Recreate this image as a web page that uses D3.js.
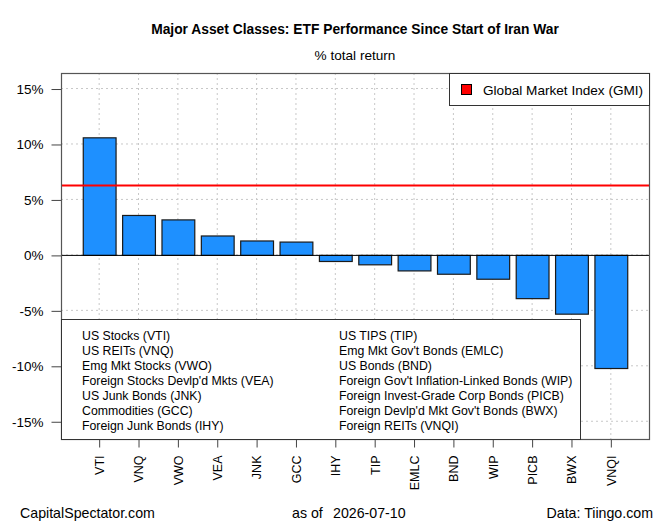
<!DOCTYPE html>
<html>
<head>
<meta charset="utf-8">
<script src="https://cdn.jsdelivr.net/npm/d3@7"></script>
<style>
  body { margin: 0; background: #fff; }
  text { font-family: "Liberation Sans", Arial, sans-serif; fill: #000; }
</style>
</head>
<body>
<div id="chart"></div>
<script>
// tickers along the x axis, in plotted order
var tickers = ["VTI", "VNQ", "VWO", "VEA", "JNK", "GCC", "IHY", "TIP", "EMLC", "BND", "WIP", "PICB", "BWX", "VNQI"];
// % total return
var returns = [10.6, 3.6, 3.2, 1.75, 1.3, 1.2, -0.55, -0.85, -1.4, -1.7, -2.15, -3.9, -5.3, -10.2];
var gmiReturn = 6.25;
var yTicks = [-15, -10, -5, 0, 5, 10, 15];

// legend text, two columns
var legendLeft = ["US Stocks (VTI)", "US REITs (VNQ)", "Emg Mkt Stocks (VWO)", "Foreign Stocks Devlp'd Mkts (VEA)",
    "US Junk Bonds (JNK)", "Commodities (GCC)", "Foreign Junk Bonds (IHY)"];
var legendRight = ["US TIPS (TIP)", "Emg Mkt Gov't Bonds (EMLC)", "US Bonds (BND)", "Foreign Gov't Inflation-Linked Bonds (WIP)",
    "Foreign Invest-Grade Corp Bonds (PICB)", "Foreign Devlp'd Mkt Gov't Bonds (BWX)", "Foreign REITs (VNQI)"];

var width = 669, height = 531;
var plot = { left: 61, right: 649, top: 73, bottom: 439 };

var svg = d3.select("#chart").append("svg")
    .attr("width", width).attr("height", height);

var x = d3.scaleBand()
    .domain(tickers)
    .range([plot.left, plot.right])
    .paddingInner(1 / 6)
    .paddingOuter(0.553);

var y = d3.scaleLinear()
    .domain([-16.6, 16.4])
    .range([plot.bottom, plot.top]);

//grid (dotted)
var grid = svg.append("g").attr("class", "grid");
grid.selectAll("line.h").data(yTicks).enter().append("line")
    .attr("x1", plot.left).attr("x2", plot.right)
    .attr("y1", function (d) { return y(d); }).attr("y2", function (d) { return y(d); })
    .attr("stroke", "#c8c8c8").attr("stroke-dasharray", "2,3");
grid.selectAll("line.v").data(tickers).enter().append("line")
    .attr("x1", function (d) { return x(d) + x.bandwidth() / 2; })
    .attr("x2", function (d) { return x(d) + x.bandwidth() / 2; })
    .attr("y1", plot.top).attr("y2", plot.bottom)
    .attr("stroke", "#c8c8c8").attr("stroke-dasharray", "2,3");

//bars
svg.append("g").selectAll("rect").data(returns).enter().append("rect")
    .attr("x", function (d, i) { return x(tickers[i]) + 0.5; })
    .attr("width", x.bandwidth())
    .attr("y", function (d) { return y(Math.max(0, d)) + 0.5; })
    .attr("height", function (d) { return Math.abs(y(d) - y(0)); })
    .attr("fill", "#1E90FF")
    .attr("stroke", "#1a1a1a").attr("stroke-width", 1.2);

//zero line and GMI line
svg.append("line")
    .attr("x1", plot.left).attr("x2", plot.right)
    .attr("y1", y(0) + 0.5).attr("y2", y(0) + 0.5)
    .attr("stroke", "#000").attr("stroke-width", 1);
svg.append("line")
    .attr("x1", plot.left).attr("x2", plot.right)
    .attr("y1", y(gmiReturn)).attr("y2", y(gmiReturn))
    .attr("stroke", "#ff0000").attr("stroke-width", 2);

//y axis
var yAxis = d3.axisLeft(y).tickValues(yTicks)
    .tickFormat(function (d) { return d + "%"; })
    .tickSize(10).tickPadding(8);
var yg = svg.append("g").attr("transform", "translate(" + (plot.left + 0.5) + ",0.5)").call(yAxis);
yg.select(".domain").remove();
yg.selectAll(".tick line").attr("stroke", "#444");
yg.selectAll("text").style("font-size", "13.5px").attr("fill", "#222");

//x axis, labels rotated
var xAxis = d3.axisBottom(x).tickSize(8).tickPadding(7);
var xg = svg.append("g").attr("transform", "translate(0.5," + (plot.bottom + 0.5) + ")").call(xAxis);
xg.select(".domain").remove();
xg.selectAll(".tick line").attr("stroke", "#444");
xg.selectAll("text")
    .style("font-size", "12.5px").attr("fill", "#222")
    .attr("transform", "rotate(-90)")
    .attr("text-anchor", "end")
    .attr("x", -16).attr("y", 0).attr("dy", "0.35em");

//plot frame
svg.append("rect")
    .attr("x", plot.left + 0.5).attr("y", plot.top + 0.5)
    .attr("width", plot.right - plot.left).attr("height", plot.bottom - plot.top)
    .attr("fill", "none").attr("stroke", "#555").attr("stroke-width", 1.2);

//GMI legend (top right)
var gmiLeg = svg.append("g");
gmiLeg.append("rect")
    .attr("x", 449.5).attr("y", plot.top + 0.5).attr("width", plot.right - 449).attr("height", 32)
    .attr("fill", "#fff").attr("stroke", "#333");
gmiLeg.append("rect")
    .attr("x", 461.5).attr("y", 84.5).attr("width", 10).attr("height", 10)
    .attr("fill", "#ff0000").attr("stroke", "#000");
gmiLeg.append("text")
    .attr("x", 483).attr("y", 95)
    .style("font-size", "13.6px").attr("fill", "#222")
    .text("Global Market Index (GMI)");

//ticker legend (bottom left)
var tickLeg = svg.append("g");
tickLeg.append("rect")
    .attr("x", plot.left + 0.5).attr("y", 319.5).attr("width", 580 - plot.left).attr("height", plot.bottom - 319)
    .attr("fill", "#fff").attr("stroke", "#333");
tickLeg.selectAll("text.l").data(legendLeft).enter().append("text")
    .attr("x", 82).attr("y", function (d, i) { return 340 + i * 15; })
    .style("font-size", "12.3px").attr("fill", "#222")
    .text(function (d) { return d; });
tickLeg.selectAll("text.r").data(legendRight).enter().append("text")
    .attr("x", 339).attr("y", function (d, i) { return 340 + i * 15; })
    .style("font-size", "12.3px").attr("fill", "#222")
    .text(function (d) { return d; });

//titles
svg.append("text")
    .attr("x", (plot.left + plot.right) / 2).attr("y", 34)
    .attr("text-anchor", "middle")
    .style("font-size", "13.8px").style("font-weight", "bold")
    .text("Major Asset Classes: ETF Performance Since Start of Iran War");
svg.append("text")
    .attr("x", (plot.left + plot.right) / 2).attr("y", 60)
    .attr("text-anchor", "middle")
    .style("font-size", "13.6px")
    .text("% total return");

//footer
svg.append("text").attr("x", 20).attr("y", 518)
    .style("font-size", "14.2px").attr("fill", "#222").text("CapitalSpectator.com");
svg.append("text").attr("x", 292).attr("y", 518)
    .style("font-size", "14.2px").attr("fill", "#222").text("as of");
svg.append("text").attr("x", 333).attr("y", 518)
    .style("font-size", "14.2px").attr("fill", "#222").text("2026-07-10");
svg.append("text").attr("x", 653).attr("y", 518).attr("text-anchor", "end")
    .style("font-size", "14.2px").attr("fill", "#222").text("Data: Tiingo.com");
</script>
</body>
</html>
